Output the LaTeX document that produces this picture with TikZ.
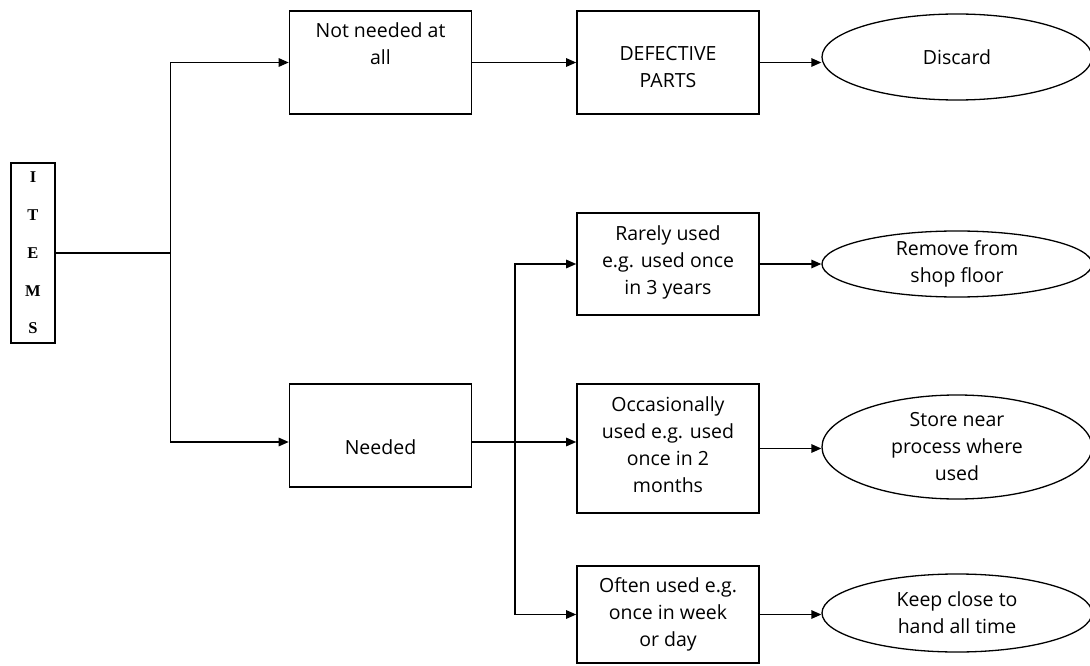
\documentclass[tikz,border=0pt]{standalone}
\usepackage{fontspec}
\usetikzlibrary{arrows.meta,shapes.geometric}
\newfontfamily\boxfont{Open Sans}
\newfontfamily\itemfont{Liberation Serif}
\newcommand{\boxtext}[3]{\parbox[t][#2pt][t]{172pt}{\centering\vspace*{#1pt}#3}}
\begin{document}
\begin{tikzpicture}[x=1pt, y=-1pt, line width=1.3pt,
        every node/.style={font=\boxfont\fontsize{19.5}{27}\selectfont},
        box/.style={draw, line width=1.6pt, inner sep=0pt, minimum width=182pt},
        oval/.style={draw, ellipse, line width=1.3pt, inner sep=0pt, align=center, minimum width=270pt},
        arr/.style={-{Triangle[length=10pt,width=8.5pt]}}]
        \useasboundingbox (0,0) rectangle (1090,666);
    % Draw boxes
        \node[draw, line width=1.6pt, minimum width=44pt, minimum height=180pt, align=center,
            font=\itemfont\bfseries\fontsize{16.5}{37.75}\selectfont] (items) at (33,253) {I\\T\\E\\M\\S};
        \node[box] (notneed) at (380.5,62.5) {\boxtext{12}{103}{Not needed at\\all}};
        \node[box] (need) at (380.5,435.5) {\boxtext{56}{103}{Needed}};
        \node[box] (defect) at (668,62.5) {\boxtext{35}{103}{DEFECTIVE\\PARTS}};
        \node[box] (rare) at (668,264) {\boxtext{13}{102}{Rarely used\\e.g. used once\\in 3 years}};
        \node[box] (occ) at (668,448.5) {\boxtext{13}{129}{Occasionally\\used e.g. used\\once in 2\\months}};
        \node[box] (often) at (668,614.5) {\boxtext{12}{97}{Often used e.g.\\once in week\\or day}};
    % Draw actions
        \node[oval, minimum height=86pt] (discard) at (957,57) {Discard};
        \node[oval, minimum height=66pt] (remove) at (957,264) {Remove from\\shop floor};
        \node[oval, minimum height=104pt] (store) at (957,447) {Store near\\process where\\used};
        \node[oval, minimum height=78pt] (keep) at (957,613) {Keep close to\\hand all time};
    % Draw connectors
        \draw (items.east) -- ++(115,0) coordinate (split);
        \coordinate (fork) at (515,442);
        \draw[arr] (split) |- (notneed.west);
        \draw[arr] (split) |- (need.west |- fork);
        \draw[arr] (notneed.east) -- (defect.west);
        \draw (fork -| need.east) -- (fork);
        \draw[arr] (fork) |- (rare.west);
        \draw[arr] (fork) -- (fork -| occ.west);
        \draw[arr] (fork) |- (often.west);
        \draw[arr] (defect.east) -- (defect.east -| discard.west);
        \draw[arr] (rare.east) -- (rare.east -| remove.west);
        \draw[arr] (occ.east) -- (occ.east -| store.west);
        \draw[arr] (often.east) -- (often.east -| keep.west);
    \end{tikzpicture}
\end{document}
